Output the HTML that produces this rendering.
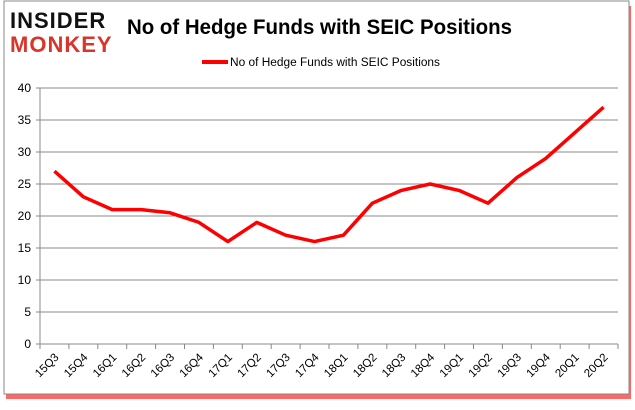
<!DOCTYPE html>
<html><head><meta charset="utf-8"><style>
body{margin:0;background:#fff;width:635px;height:405px;overflow:hidden;font-family:"Liberation Sans",sans-serif}
</style></head><body>
<svg width="635" height="405">
<rect x="6" y="6" width="625" height="393" fill="#ff0000" opacity="0.6"/>
<rect x="4" y="1" width="625" height="393" fill="#fff" stroke="#888" stroke-width="1"/>
<g>
<text x="10" y="28" font-size="22" font-weight="bold" fill="#111" font-family="Liberation Sans,sans-serif" letter-spacing="1">INSIDER</text>
<text x="10" y="52" font-size="22" font-weight="bold" fill="#d9352a" font-family="Liberation Sans,sans-serif" letter-spacing="1">MONKEY</text>
</g>
<text x="127" y="34" font-size="21" font-weight="bold" fill="#000" textLength="385" lengthAdjust="spacingAndGlyphs">No of Hedge Funds with SEIC Positions</text>
<line x1="202" y1="62" x2="228" y2="62" stroke="#f00" stroke-width="4"/>
<text x="230" y="66" font-size="11.5" fill="#000" textLength="210" lengthAdjust="spacingAndGlyphs">No of Hedge Funds with SEIC Positions</text>
<g id="grid"></g><g id="axes"></g><g id="series"></g>
</svg>
<script>
const categories=["15Q3","15Q4","16Q1","16Q2","16Q3","16Q4","17Q1","17Q2","17Q3","17Q4","18Q1","18Q2","18Q3","18Q4","19Q1","19Q2","19Q3","19Q4","20Q1","20Q2"];
const values=[27,23,21,21,20.5,19,16,19,17,16,17,22,24,25,24,22,26,29,33,37];
const yTicks=[0,5,10,15,20,25,30,35,40];
const NS="http://www.w3.org/2000/svg";
const x0=40,x1=618,y0=344,y1=88;
const band=(x1-x0)/categories.length;
const xs=i=>x0+band*(i+0.5);
const ys=v=>y0-(v/40)*(y0-y1);
function mk(t,a,p){const e=document.createElementNS(NS,t);for(const k in a)e.setAttribute(k,a[k]);p.appendChild(e);return e;}
const grid=document.getElementById('grid'),axes=document.getElementById('axes'),series=document.getElementById('series');
yTicks.forEach(v=>{
 const l=mk('line',{x1:x0-4,x2:x1,y1:ys(v),y2:ys(v),stroke:'#888','stroke-width':1},grid);
 
 
 const t=mk('text',{x:x0-9,y:ys(v)+4,'text-anchor':'end','font-size':12,fill:'#000'},axes);
 t.textContent=v;
 
 
});
const ax=mk('line',{x1:x0,x2:x0,y1:y1,y2:y0,stroke:'#888'},axes);


for(let i=0;i<=categories.length;i++){
 const tk=mk('line',{x1:x0+band*i,x2:x0+band*i,y1:y0,y2:y0+5,stroke:'#888'},axes);
 
 
}
categories.forEach((c,i)=>{
 const x=xs(i)+5,y=y0+14;
 const t=mk('text',{x:x,y:y,'text-anchor':'end','font-size':11.5,fill:'#000',transform:`rotate(-45 ${x} ${y})`},axes);
 t.textContent=c;
 
 
});
const p=mk('polyline',{points:values.map((v,i)=>xs(i)+','+ys(v)).join(' '),fill:'none',stroke:'#f00','stroke-width':3.5,'stroke-linejoin':'round'},series);


</script>
</body></html>
